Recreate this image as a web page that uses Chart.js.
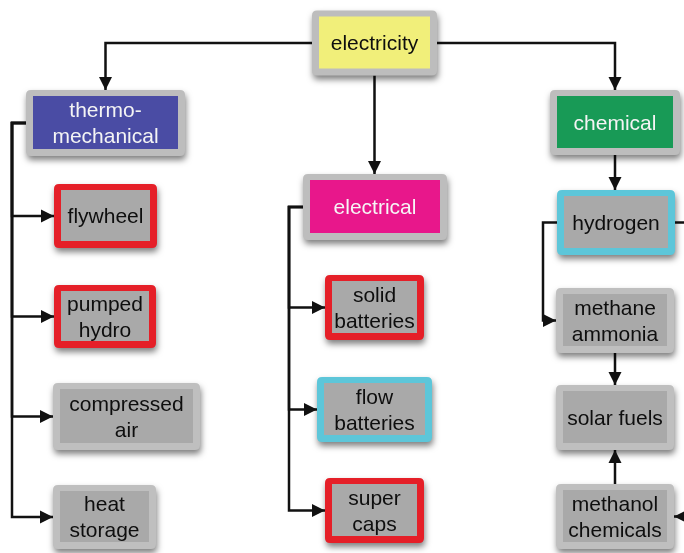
<!DOCTYPE html>
<html>
<head>
<meta charset="utf-8">
<script src="https://cdn.jsdelivr.net/npm/chart.js@4.4.1/dist/chart.umd.min.js"></script>
<style>
  html, body { margin: 0; padding: 0; background: #fff; }
  #wrap { width: 684px; height: 553px; position: relative; }
</style>
</head>
<body>
<div id="wrap"><canvas id="diagram"></canvas></div>
<script>
// ─── Nodes: label ("\n" = line break), centre in picture units, colour kind ───
const nodeLabels = [
  'electricity', 'thermo-\nmechanical', 'chemical', 'electrical',
  'flywheel', 'pumped\nhydro', 'compressed\nair', 'heat\nstorage',
  'solid\nbatteries', 'flow\nbatteries', 'super\ncaps',
  'hydrogen', 'methane\nammonia', 'solar fuels', 'methanol\nchemicals',
];
const nodeX = [374.5, 105.5, 615, 375, 105.5, 105, 126.5, 104.5, 374.5, 374.5, 374.5, 616, 615, 615, 615];
const nodeY = [43, 123, 122.5, 207, 216, 316.5, 416.5, 517, 307.5, 409.5, 510.5, 222.5, 320.5, 417.5, 516.5];
const nodeKind = ['yellow', 'blue', 'green', 'magenta', 'red', 'red', 'gray', 'gray',
  'red', 'cyan', 'red', 'cyan', 'gray', 'gray', 'gray'];

// ─── Links: [from, to, route]  (-1 = off the right edge) ───
const links = [
  [0, 1, 'elbow'], [0, 2, 'elbow'], [0, 3, 'vert'],
  [1, 4, 'bus'], [1, 5, 'bus'], [1, 6, 'bus'], [1, 7, 'bus'],
  [3, 8, 'bus'], [3, 9, 'bus'], [3, 10, 'bus'],
  [2, 11, 'vert'], [11, 12, 'bus'], [12, 13, 'vert'], [14, 13, 'vert'],
  [11, -1, 'outRight'], [-1, 14, 'inRight'],
];

// ─── Layout / style (not data) ───
const BOX_W = [125, 159, 130, 144, 103, 102, 147, 103, 99, 115, 99, 118, 118, 118, 118];
const BOX_H = [65, 66, 65, 66, 64, 63, 67, 64, 65, 65, 65, 65, 65, 65, 65];
const BUS_X = { 1: 12, 3: 289, 11: 543 };
const EDGE_X = 684;
const INSET = 7;
const LINE_GAP = 26;
const FONT = '21px "Liberation Sans", Arial, Helvetica, sans-serif';
const STYLE = {
  yellow:  { outer: '#bdbdbd', inner: '#f1ef7a', text: '#0e0e0e' },
  blue:    { outer: '#bdbdbd', inner: '#4a4ca4', text: '#f4f4f4' },
  green:   { outer: '#bdbdbd', inner: '#189a56', text: '#f4f4f4' },
  magenta: { outer: '#bdbdbd', inner: '#e8178b', text: '#f6f6f6' },
  red:     { outer: '#e51f28', inner: '#a9a9a9', text: '#0e0e0e' },
  cyan:    { outer: '#5dc6d9', inner: '#a9a9a9', text: '#0e0e0e' },
  gray:    { outer: '#bfbfbf', inner: '#a9a9a9', text: '#0e0e0e' },
};

// ─── Build link polylines from node positions ───
function linkPoints([from, to, route]) {
  const px = nodeX[from], py = nodeY[from];
  const cx = nodeX[to], cy = nodeY[to];
  if (route === 'elbow') {
    const side = cx < px ? px - BOX_W[from] / 2 : px + BOX_W[from] / 2;
    return [{ x: side, y: py }, { x: cx, y: py }, { x: cx, y: cy - BOX_H[to] / 2 }];
  }
  if (route === 'vert') {
    const dir = cy > py ? 1 : -1;
    return [{ x: px, y: py + dir * BOX_H[from] / 2 }, { x: px, y: cy - dir * BOX_H[to] / 2 }];
  }
  if (route === 'bus') {
    const bx = BUS_X[from];
    return [{ x: px - BOX_W[from] / 2, y: py }, { x: bx, y: py }, { x: bx, y: cy }, { x: cx - BOX_W[to] / 2, y: cy }];
  }
  if (route === 'outRight') {
    return [{ x: px + BOX_W[from] / 2, y: py }, { x: EDGE_X, y: py }];
  }
  // inRight
  return [{ x: EDGE_X, y: cy }, { x: cx + BOX_W[to] / 2, y: cy }];
}

const linkDatasets = links.map(l => ({
  data: linkPoints(l),
  showLine: true,
  borderColor: '#111',
  borderWidth: 2.5,
  pointRadius: 0,
  tension: 0,
  arrow: l[2] !== 'outRight',
}));

const nodeDataset = {
  data: nodeLabels.map((label, i) => ({ x: nodeX[i], y: nodeY[i], label, kind: nodeKind[i], i })),
  pointRadius: 0,
  showLine: false,
};

function roundRect(ctx, x, y, w, h, r) {
  ctx.beginPath();
  ctx.moveTo(x + r, y);
  ctx.lineTo(x + w - r, y);
  ctx.quadraticCurveTo(x + w, y, x + w, y + r);
  ctx.lineTo(x + w, y + h - r);
  ctx.quadraticCurveTo(x + w, y + h, x + w - r, y + h);
  ctx.lineTo(x + r, y + h);
  ctx.quadraticCurveTo(x, y + h, x, y + h - r);
  ctx.lineTo(x, y + r);
  ctx.quadraticCurveTo(x, y, x + r, y);
  ctx.closePath();
}

// ─── Plugin: boxes + arrowheads drawn at scale positions ───
const diagramPlugin = {
  id: 'diagram',
  afterDatasetsDraw(chart) {
    const { ctx, scales: { x: xs, y: ys } } = chart;
    ctx.save();

    // boxes
    chart.data.datasets[0].data.forEach(n => {
      const st = STYLE[n.kind];
      const x0 = xs.getPixelForValue(n.x - BOX_W[n.i] / 2);
      const x1 = xs.getPixelForValue(n.x + BOX_W[n.i] / 2);
      const y0 = ys.getPixelForValue(n.y - BOX_H[n.i] / 2);
      const y1 = ys.getPixelForValue(n.y + BOX_H[n.i] / 2);
      ctx.save();
      ctx.shadowColor = 'rgba(0,0,0,0.5)';
      ctx.shadowBlur = 6;
      ctx.shadowOffsetX = 1;
      ctx.shadowOffsetY = 4;
      ctx.fillStyle = st.outer;
      roundRect(ctx, x0, y0, x1 - x0, y1 - y0, 5);
      ctx.fill();
      ctx.restore();
      ctx.fillStyle = st.inner;
      ctx.fillRect(x0 + INSET, y0 + INSET - 1, x1 - x0 - 2 * INSET, y1 - y0 - 2 * INSET + 1);

      const lines = n.label.split('\n');
      const cx = xs.getPixelForValue(n.x);
      const cy = ys.getPixelForValue(n.y);
      ctx.fillStyle = st.text;
      ctx.font = FONT;
      ctx.textAlign = 'center';
      ctx.textBaseline = 'middle';
      lines.forEach((t, k) => {
        ctx.fillText(t, cx, cy + 1.5 + (k - (lines.length - 1) / 2) * LINE_GAP);
      });
    });

    // arrowheads
    chart.data.datasets.slice(1).forEach(ds => {
      if (!ds.arrow) return;
      const pts = ds.data;
      const a = pts[pts.length - 2], b = pts[pts.length - 1];
      const ax = xs.getPixelForValue(a.x), ay = ys.getPixelForValue(a.y);
      const bx = xs.getPixelForValue(b.x), by = ys.getPixelForValue(b.y);
      const ang = Math.atan2(by - ay, bx - ax);
      const len = 13, half = 6.5;
      ctx.fillStyle = '#111';
      ctx.beginPath();
      ctx.moveTo(bx, by);
      ctx.lineTo(bx - len * Math.cos(ang) + half * Math.sin(ang), by - len * Math.sin(ang) - half * Math.cos(ang));
      ctx.lineTo(bx - len * Math.cos(ang) - half * Math.sin(ang), by - len * Math.sin(ang) + half * Math.cos(ang));
      ctx.closePath();
      ctx.fill();
    });

    ctx.restore();
  },
};

new Chart(document.getElementById('diagram'), {
  type: 'scatter',
  data: { datasets: [nodeDataset, ...linkDatasets] },
  options: {
    responsive: true,
    maintainAspectRatio: false,
    animation: false,
    layout: { padding: 0 },
    plugins: { legend: { display: false }, tooltip: { enabled: false } },
    scales: {
      x: { type: 'linear', min: 0, max: 684, display: false },
      y: { type: 'linear', min: 0, max: 553, reverse: true, display: false },
    },
  },
  plugins: [diagramPlugin],
});
</script>
</body>
</html>
